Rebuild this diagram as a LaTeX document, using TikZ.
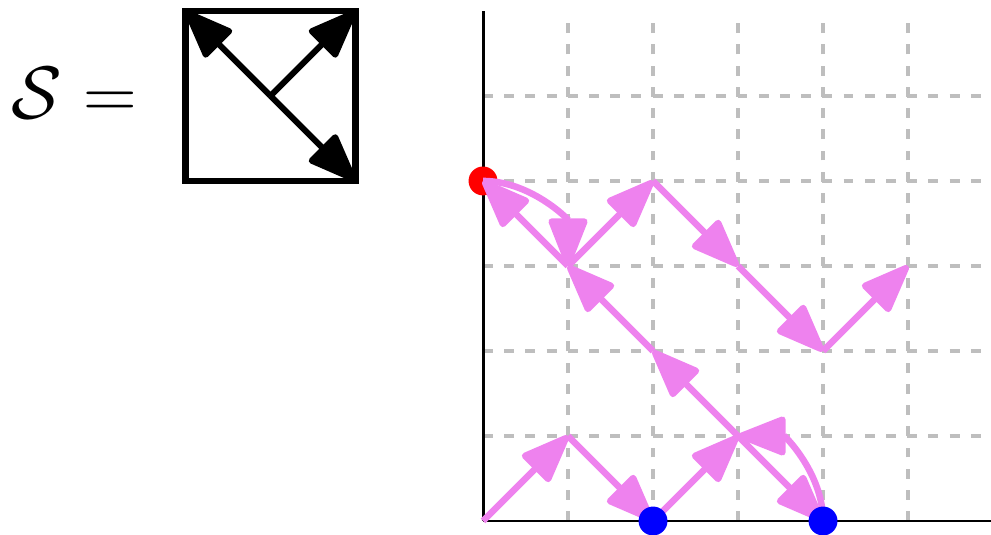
\documentclass[tikz,border=0pt]{standalone}
\usetikzlibrary{arrows.meta}
\definecolor{pathpink}{HTML}{EE82EE}
\definecolor{gridgray}{HTML}{BEBEBE}
\begin{document}
\begin{tikzpicture}[x=1cm,y=1cm,
  gridline/.style={draw=gridgray, line width=1.1pt, dash pattern=on 3.3pt off 3.8pt},
  axisline/.style={draw=black, line width=1pt},
  tipstyle/.style={-{Triangle[length=18pt,width=13.5pt,round]}},
  pinkarrow/.style={draw=pathpink, line width=2.2pt, tipstyle},
  blackarrow/.style={draw=black, line width=2pt, tipstyle},
  dot/.style={circle, minimum size=0.34cm, inner sep=0pt, draw=none},
  sqbox/.style={draw=black, line width=2.1pt, minimum size=2cm, inner sep=0pt, outer sep=0pt}]
\useasboundingbox (-5.682,-0.153) rectangle (5.976,6.129);

% label and square
\node[font=\Huge, anchor=base west, inner sep=0pt] (lbl) at (-5.55,4.74) {$\mathcal{S} =$};
\node[sqbox] (sq) at (-2.5,5) {};
\draw[blackarrow] (sq.center) -- (sq.north west);
\draw[blackarrow] (sq.center) -- (sq.north east);
\draw[blackarrow] (sq.center) -- (sq.south east);

% grid
\foreach \i in {1,...,5} {
  \draw[gridline] (\i,0) -- (\i,5.9);
  \draw[gridline] (0,\i) -- (6,\i);
}
\coordinate (o) at (0,0);
\coordinate (xend) at (6,0);
\coordinate (yend) at (0,6);
\draw[axisline] (o) -- (xend);
\draw[axisline] (o) -- (yend);

% path points
\coordinate (a0) at (0,0);
\coordinate (a1) at (1,1);
\coordinate (a2) at (2,0);
\coordinate (a3) at (3,1);
\coordinate (a4) at (4,0);
\coordinate (b1) at (2,2);
\coordinate (b2) at (1,3);
\coordinate (b3) at (0,4);
\coordinate (c1) at (2,4);
\coordinate (c2) at (3,3);
\coordinate (c3) at (4,2);
\coordinate (c4) at (5,3);

\node[dot, fill=red] (rd) at (b3) {};

\draw[pinkarrow] (a0) -- (a1);
\draw[pinkarrow] (a1) -- (a2);
\draw[pinkarrow] (a2) -- (a3);
\draw[pinkarrow] (a4) to[out=90,in=0] (a3);
\draw[pinkarrow] (a3) -- (a4);
\draw[pinkarrow] (a3) -- (b1);
\draw[pinkarrow] (b1) -- (b2);
\draw[pinkarrow] (b2) -- (b3);
\draw[pinkarrow] (b3) to[out=0,in=90] (b2);
\draw[pinkarrow] (b2) -- (c1);
\draw[pinkarrow] (c1) -- (c2);
\draw[pinkarrow] (c2) -- (c3);
\draw[pinkarrow] (c3) -- (c4);

\node[dot, fill=blue] (bd1) at (a2) {};
\node[dot, fill=blue] (bd2) at (a4) {};
\end{tikzpicture}
\end{document}
